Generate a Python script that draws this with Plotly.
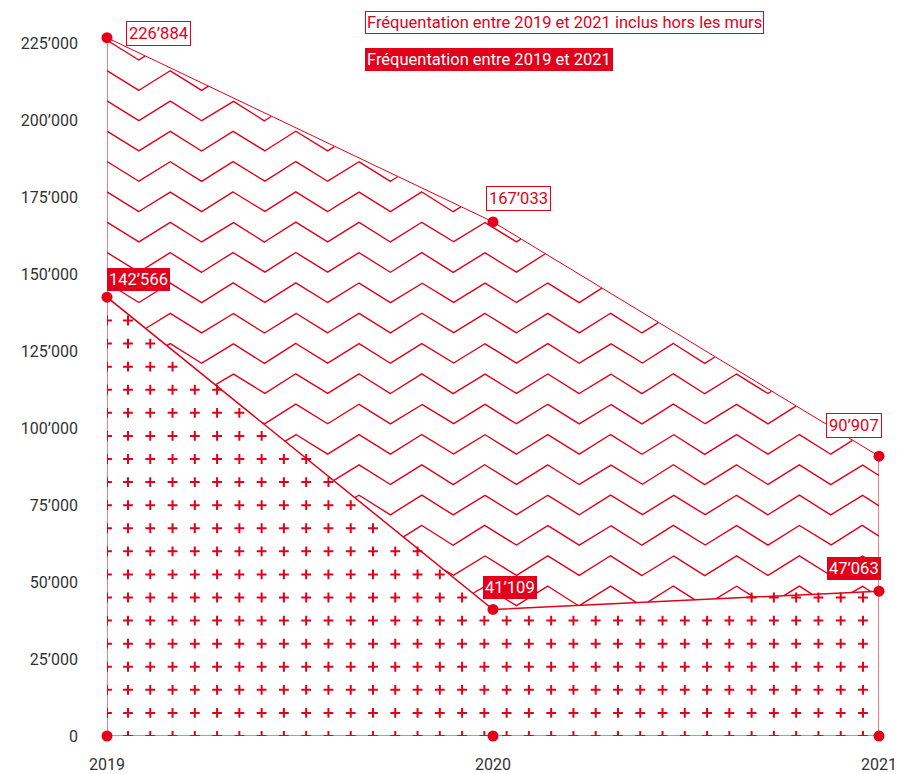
import numpy as np
import plotly.graph_objects as go

RED = "#E2001A"
TEXT = "#333333"
FONT = "Roboto, sans-serif"

YEARS = [2019, 2020, 2021]
TOTAL = [226884, 167033, 90907]    # inclus hors les murs
INSIDE = [142566, 41109, 47063]    # entre les murs
BASE = [0, 0, 0]
Y_TICKS = list(range(0, 225001, 25000))

LEGEND_TOTAL = "Fréquentation entre 2019 et 2021 inclus hors les murs"
LEGEND_INSIDE = "Fréquentation entre 2019 et 2021"

# label placement (xanchor, xshift px, yshift px)
TOTAL_LABEL_POS = [("left", 19, 4), ("left", -7, 23), ("right", 3, 31)]
INSIDE_LABEL_POS = [("left", 0, 18), ("left", -10, 22), ("right", 2, 23)]

# pattern geometry
ZIG_PERIOD = 0.163
ZIG_AMP = 6500
ZIG_DY = 9850
ZIG_TOP = 216200
CROSS_X0 = 0.0544
CROSS_DX = 0.0577
CROSS_DY = 7500


def fmt(v):
    return f"{v:,}".replace(",", "\u2019")


# zigzag hatching between the two curves
xs = np.linspace(YEARS[0], YEARS[-1], 1600)
upper = np.interp(xs, YEARS, TOTAL)
lower = np.interp(xs, YEARS, INSIDE)
phase = ((xs - YEARS[0]) / ZIG_PERIOD) % 1.0
tri = 1 - np.abs(1 - 2 * phase)
zx, zy = [], []
for k in range(-2, 26):
    y = ZIG_TOP - k * ZIG_DY - ZIG_AMP * tri
    y = np.where((y <= upper) & (y >= lower), y, np.nan)
    if np.all(np.isnan(y)):
        continue
    zx += list(xs) + [None]
    zy += [None if np.isnan(v) else float(v) for v in y] + [None]

# cross pattern under the lower curve
cx = np.concatenate([[YEARS[0]], YEARS[0] + CROSS_X0 + CROSS_DX * np.arange(34)])
cy = np.arange(0, max(INSIDE) + CROSS_DY, CROSS_DY)
CX, CY = np.meshgrid(cx, cy)
keep = CY <= np.interp(CX, YEARS, INSIDE)

fig = go.Figure()

fig.add_trace(
    go.Scatter(
        x=CX[keep],
        y=CY[keep],
        mode="markers",
        marker=dict(symbol="cross-thin", size=7, color=RED, line=dict(width=2, color=RED)),
        hoverinfo="skip",
        cliponaxis=True,
    )
)

fig.add_trace(
    go.Scatter(
        x=zx,
        y=zy,
        mode="lines",
        line=dict(color=RED, width=1.4),
        connectgaps=False,
        hoverinfo="skip",
    )
)

# frame lines
for x, y in [
    ([YEARS[0], YEARS[0]], [BASE[0], TOTAL[0]]),
    ([YEARS[-1], YEARS[-1]], [BASE[-1], TOTAL[-1]]),
    (YEARS, BASE),
]:
    fig.add_trace(
        go.Scatter(x=x, y=y, mode="lines", line=dict(color=RED, width=1),
                   hoverinfo="skip", cliponaxis=False)
    )

fig.add_trace(
    go.Scatter(
        x=YEARS, y=TOTAL, mode="lines", line=dict(color=RED, width=1),
        name=LEGEND_TOTAL, cliponaxis=False,
        hovertemplate="%{x}: %{y:,d}<extra></extra>",
    )
)
fig.add_trace(
    go.Scatter(
        x=YEARS, y=INSIDE, mode="lines", line=dict(color=RED, width=1.5),
        name=LEGEND_INSIDE, cliponaxis=False,
        hovertemplate="%{x}: %{y:,d}<extra></extra>",
    )
)

fig.add_trace(
    go.Scatter(
        x=YEARS * 3,
        y=TOTAL + INSIDE + BASE,
        mode="markers",
        marker=dict(size=11, color=RED),
        cliponaxis=False,
        hovertemplate="%{x}: %{y:,d}<extra></extra>",
    )
)

annotations = []
for x, v, (anchor, dx, dy) in zip(YEARS, TOTAL, TOTAL_LABEL_POS):
    annotations.append(dict(
        x=x, y=v, xref="x", yref="y", text=fmt(v), showarrow=False,
        xanchor=anchor, yanchor="middle", xshift=dx, yshift=dy,
        font=dict(family=FONT, size=16.5, color=RED),
        bgcolor="white", bordercolor=RED, borderwidth=1, borderpad=2,
    ))
for x, v, (anchor, dx, dy) in zip(YEARS, INSIDE, INSIDE_LABEL_POS):
    annotations.append(dict(
        x=x, y=v, xref="x", yref="y", text=fmt(v), showarrow=False,
        xanchor=anchor, yanchor="middle", xshift=dx, yshift=dy,
        font=dict(family=FONT, size=16.5, color="white"),
        bgcolor=RED, bordercolor=RED, borderwidth=1, borderpad=1,
    ))

annotations.append(dict(
    x=0.3347, y=0.987, xref="paper", yref="paper", text=LEGEND_TOTAL, showarrow=False,
    xanchor="left", yanchor="middle",
    font=dict(family=FONT, size=16.5, color=RED),
    bgcolor="white", bordercolor=RED, borderwidth=1, borderpad=1,
))
annotations.append(dict(
    x=0.3347, y=0.935, xref="paper", yref="paper", text=LEGEND_INSIDE, showarrow=False,
    xanchor="left", yanchor="middle",
    font=dict(family=FONT, size=16.5, color="white"),
    bgcolor=RED, bordercolor=RED, borderwidth=1, borderpad=1,
))

# the page body adds an 8px offset, margins compensate for it
fig.update_layout(
    width=902,
    height=774,
    margin=dict(l=99, r=31, t=5, b=46),
    showlegend=False,
    plot_bgcolor="white",
    paper_bgcolor="white",
    separators=".\u2019",
    font=dict(family=FONT, size=16, color=TEXT),
    annotations=annotations,
    xaxis=dict(
        range=[YEARS[0], YEARS[-1]],
        tickvals=YEARS,
        ticktext=[str(y) for y in YEARS],
        showgrid=False, zeroline=False, showline=False, ticks="",
        ticklabelstandoff=17, automargin=False,
        tickfont=dict(size=16),
    ),
    yaxis=dict(
        range=[0, 234900],
        tickvals=Y_TICKS,
        tickformat=",d",
        showgrid=False, zeroline=False, showline=False, ticks="",
        ticklabelstandoff=28, automargin=False,
        tickfont=dict(size=16),
    ),
)

fig.write_html("out.html")
